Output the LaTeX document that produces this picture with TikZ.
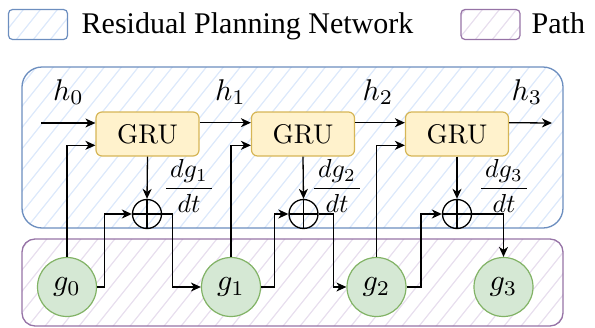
\documentclass[tikz,border=0pt]{standalone}
\usepackage{graphicx}
\usepackage{fontspec}
\newfontfamily\legendfont{Liberation Serif}
\usetikzlibrary{arrows.meta,calc}

\definecolor{netblue}{HTML}{6C8EBF}
\definecolor{nethatch}{HTML}{DDE9FB}
\definecolor{pathpurple}{HTML}{9673A6}
\definecolor{pathhatch}{HTML}{E8DFEE}
\definecolor{grufill}{HTML}{FFF2CC}
\definecolor{gruedge}{HTML}{D6B656}
\definecolor{gfill}{HTML}{D5E8D4}
\definecolor{gedge}{HTML}{82B366}

% enlarged math and text, built from the 10pt sizes
\newcommand{\mathbig}[2]{\scalebox{#1}{$#2$}}
\newcommand{\textbig}[2]{\scalebox{#1}{#2}}

\begin{document}
\begin{tikzpicture}[x=1pt,y=-1pt,
  >={Stealth[length=10pt,width=9pt,inset=3pt]},
  conn/.style={draw=black,line width=1.3pt,->},
  gru/.style={draw=gruedge,fill=grufill,line width=1.2pt,rounded corners=6pt,
    minimum width=103pt,minimum height=44pt,inner sep=0pt},
  gstate/.style={circle,draw=gedge,fill=gfill,line width=1.2pt,minimum size=59pt,
    inner sep=0pt},
  sumnode/.style={circle,draw=black,line width=1.3pt,minimum size=29pt,inner sep=0pt,
    path picture={\draw[line width=1.3pt]
      (path picture bounding box.north) -- (path picture bounding box.south)
      (path picture bounding box.west) -- (path picture bounding box.east);}},
  hlabel/.style={anchor=base west,inner sep=0pt},
  rate/.style={inner sep=0pt},
  legendtext/.style={anchor=base west,inner sep=0pt,font=\legendfont\fontsize{30}{34}\selectfont},
  hatchline/.style={line width=1.2pt},
]
\useasboundingbox (0,0) rectangle (595,327);

% legend swatches
\begin{scope}
  \clip[rounded corners=4pt] (8.5,9.5) rectangle (67.5,39.5);
  \foreach \i in {-4,...,6} \draw[nethatch,hatchline] (\i*17,60) -- ++(60,-75);
\end{scope}
\draw[netblue,line width=1.2pt,rounded corners=4pt] (8.5,9.5) rectangle (67.5,39.5);
\node[legendtext] (lnet) at (81.5,33) {Residual Planning Network};

\begin{scope}
  \clip[rounded corners=4pt] (461,9.5) rectangle (520,39.5);
  \foreach \i in {24,...,34} \draw[pathhatch,hatchline] (\i*17,60) -- ++(60,-75);
\end{scope}
\draw[pathpurple,line width=1.2pt,rounded corners=4pt] (461,9.5) rectangle (520,39.5);
\node[legendtext] (lpath) at (531.5,33) {Path};

% residual planning network panel
\begin{scope}
  \clip[rounded corners=20pt] (22,67) rectangle (563,228);
  \foreach \i in {-10,...,40} \draw[nethatch,hatchline] (\i*17,240) -- ++(140,-175);
\end{scope}
\draw[netblue,line width=1.3pt,rounded corners=20pt] (22,67) rectangle (563,228);

% path panel
\begin{scope}
  \clip[rounded corners=13pt] (22,239) rectangle (563,326);
  \foreach \i in {-10,...,40} \draw[pathhatch,hatchline] (\i*17,340) -- ++(90,-112.5);
\end{scope}
\draw[pathpurple,line width=1.3pt,rounded corners=13pt] (22,239) rectangle (563,326);

% recurrent cells
\node[gru] (gru1) at (147.5,134) {\textbig{2.7}{GRU}};
\node[gru] (gru2) at (303,134) {\textbig{2.7}{GRU}};
\node[gru] (gru3) at (457,134) {\textbig{2.7}{GRU}};

% residual sums
\node[sumnode] (s1) at (147,214) {};
\node[sumnode] (s2) at (303.5,214) {};
\node[sumnode] (s3) at (457,214) {};

% path states
\node[gstate] (g0) at (67,287) {\mathbig{3}{g_0}};
\node[gstate] (g1) at (231,287) {\mathbig{3}{g_1}};
\node[gstate] (g2) at (376.5,287) {\mathbig{3}{g_2}};
\node[gstate] (g3) at (503.5,287) {\mathbig{3}{g_3}};

% hidden states
\node[hlabel] (h0) at (53,100) {\mathbig{3}{h_0}};
\node[hlabel] (h1) at (215,100) {\mathbig{3}{h_1}};
\node[hlabel] (h2) at (362.5,100) {\mathbig{3}{h_2}};
\node[hlabel] (h3) at (511.5,100) {\mathbig{3}{h_3}};

% increments
\node[rate] (r1) at (189,186) {\mathbig{2.6}{\displaystyle\frac{\,dg_1\,}{dt}}};
\node[rate] (r2) at (337,186) {\mathbig{2.6}{\displaystyle\frac{\,dg_2\,}{dt}}};
\node[rate] (r3) at (504,186) {\mathbig{2.6}{\displaystyle\frac{\,dg_3\,}{dt}}};

% hidden-state chain
\coordinate (hin) at (41,123);
\coordinate (hout) at (552,123);
\draw[conn] (hin) -- (hin -| gru1.west);
\draw[conn] ($(gru1.north east)!0.25!(gru1.south east)$) -- ($(gru2.north west)!0.25!(gru2.south west)$);
\draw[conn] ($(gru2.north east)!0.25!(gru2.south east)$) -- ($(gru3.north west)!0.25!(gru3.south west)$);
\draw[conn] ($(gru3.north east)!0.25!(gru3.south east)$) -- (hout);

% state inputs to the cells
\draw[conn] (g0.north) |- ($(gru1.north west)!0.75!(gru1.south west)$);
\draw[conn] (g1.north) |- ($(gru2.north west)!0.75!(gru2.south west)$);
\draw[conn] (g2.north) |- ($(gru3.north west)!0.75!(gru3.south west)$);

% cell outputs into the sums
\draw[conn] (gru1.south) -- (s1.north);
\draw[conn] (gru2.south) -- (s2.north);
\draw[conn] (gru3.south) -- (s3.north);

% skip connections
\draw[conn] (g0.east) -- ++(7.5,0) |- (s1.west);
\draw[conn] (g1.east) -- ++(13.5,0) |- (s2.west);
\draw[conn] (g2.east) -- ++(14.5,0) |- (s3.west);

% updated states
\draw[conn] (s1.east) -- ++(10.5,0) |- (g1.west);
\draw[conn] (s2.east) -- ++(15,0) |- (g2.west);
\draw[conn] (s3.east) -| (g3.north);
\end{tikzpicture}
\end{document}
